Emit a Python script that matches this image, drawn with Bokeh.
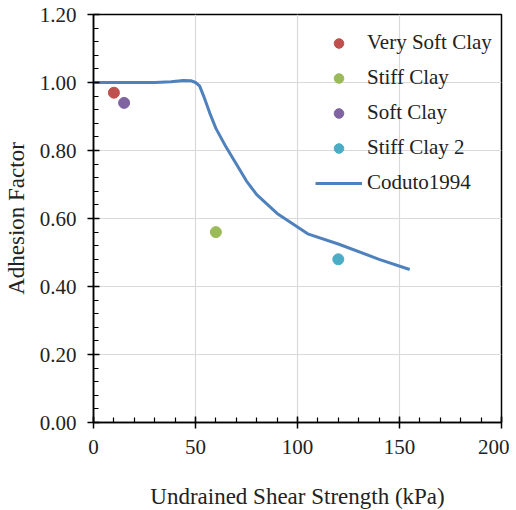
from bokeh.plotting import figure
from bokeh.models import Range1d, FixedTicker, Legend, LegendItem, NumeralTickFormatter
from bokeh.embed import file_html
from bokeh.resources import INLINE

# ---- data ----
series_names = ["Very Soft Clay", "Stiff Clay", "Soft Clay", "Stiff Clay 2"]
series_x = [10, 60, 15, 120]
series_y = [0.97, 0.56, 0.94, 0.48]
series_colors = ["#C0504D", "#9BBB59", "#8064A2", "#4BACC6"]

coduto_x = [0, 10, 20, 30, 38, 44, 48, 50, 52, 54, 57, 60, 65, 70, 75, 80, 90, 100, 105, 120, 140, 155]
coduto_y = [1.0, 1.0, 1.0, 1.0, 1.002, 1.006, 1.005, 1.0, 0.99, 0.96, 0.91, 0.865, 0.81,
            0.76, 0.71, 0.67, 0.615, 0.575, 0.555, 0.525, 0.48, 0.45]
coduto_name = "Coduto1994"

x_ticks = [0, 50, 100, 150, 200]
x_minor = list(range(0, 201, 10))
y_ticks = [0.0, 0.2, 0.4, 0.6, 0.8, 1.0, 1.2]
y_minor = [round(i * 0.04, 2) for i in range(31)]

FONT = "Liberation Serif"

p = figure(width=508, height=508, frame_width=408, frame_height=408,
           output_backend="svg", toolbar_location=None,
           x_range=Range1d(0, 200), y_range=Range1d(0, 1.2),
           min_border_left=92, min_border_right=8, min_border_top=14, min_border_bottom=86)

p.background_fill_color = "white"
p.border_fill_color = "white"
p.outline_line_color = "black"
p.outline_line_width = 1.5

for g in (p.xgrid, p.ygrid):
    g.grid_line_color = "#d9d9d9"
    g.grid_line_width = 1.2

p.xaxis.ticker = FixedTicker(ticks=x_ticks, minor_ticks=x_minor)
p.yaxis.ticker = FixedTicker(ticks=y_ticks, minor_ticks=y_minor)
p.yaxis.formatter = NumeralTickFormatter(format="0.00")
p.xaxis.formatter = NumeralTickFormatter(format="0")

for ax in (p.xaxis, p.yaxis):
    ax.axis_line_color = "black"
    ax.axis_line_width = 1.5
    ax.major_tick_line_color = "black"
    ax.major_tick_line_width = 1.5
    ax.major_tick_out = 6
    ax.major_tick_in = 6
    ax.minor_tick_line_color = "black"
    ax.minor_tick_line_width = 1.2
    ax.minor_tick_in = 5
    ax.minor_tick_out = 0
    ax.major_label_text_font = FONT
    ax.major_label_text_font_size = "21px"
    ax.major_label_text_color = "#222222"
    ax.axis_label_text_font = FONT
    ax.axis_label_text_font_size = "23px"
    ax.axis_label_text_font_style = "normal"
    ax.axis_label_text_color = "#222222"

p.xaxis.axis_label = "Undrained Shear Strength (kPa)"
p.yaxis.axis_label = "Adhesion Factor"
p.xaxis.major_label_standoff = 11
p.yaxis.major_label_standoff = 11
p.xaxis.axis_label_standoff = 27
p.yaxis.axis_label_standoff = 8

line_r = p.line(coduto_x, coduto_y, line_color="#4F81BD", line_width=3)

items = []
for name, x, y, c in zip(series_names, series_x, series_y, series_colors):
    r = p.scatter([x], [y], size=11, fill_color=c, line_color=c)
    items.append(LegendItem(label=name, renderers=[r]))
items.append(LegendItem(label=coduto_name, renderers=[line_r]))

legend = Legend(items=items, location=(222, 227), padding=0, margin=0,
                glyph_width=47, glyph_height=24, label_height=24, spacing=10,
                label_standoff=5, label_text_font=FONT, label_text_font_size="21px",
                label_text_color="#222222",
                background_fill_alpha=0, border_line_alpha=0)
p.add_layout(legend, "center")

open("out.html", "w").write(file_html(p, INLINE))
